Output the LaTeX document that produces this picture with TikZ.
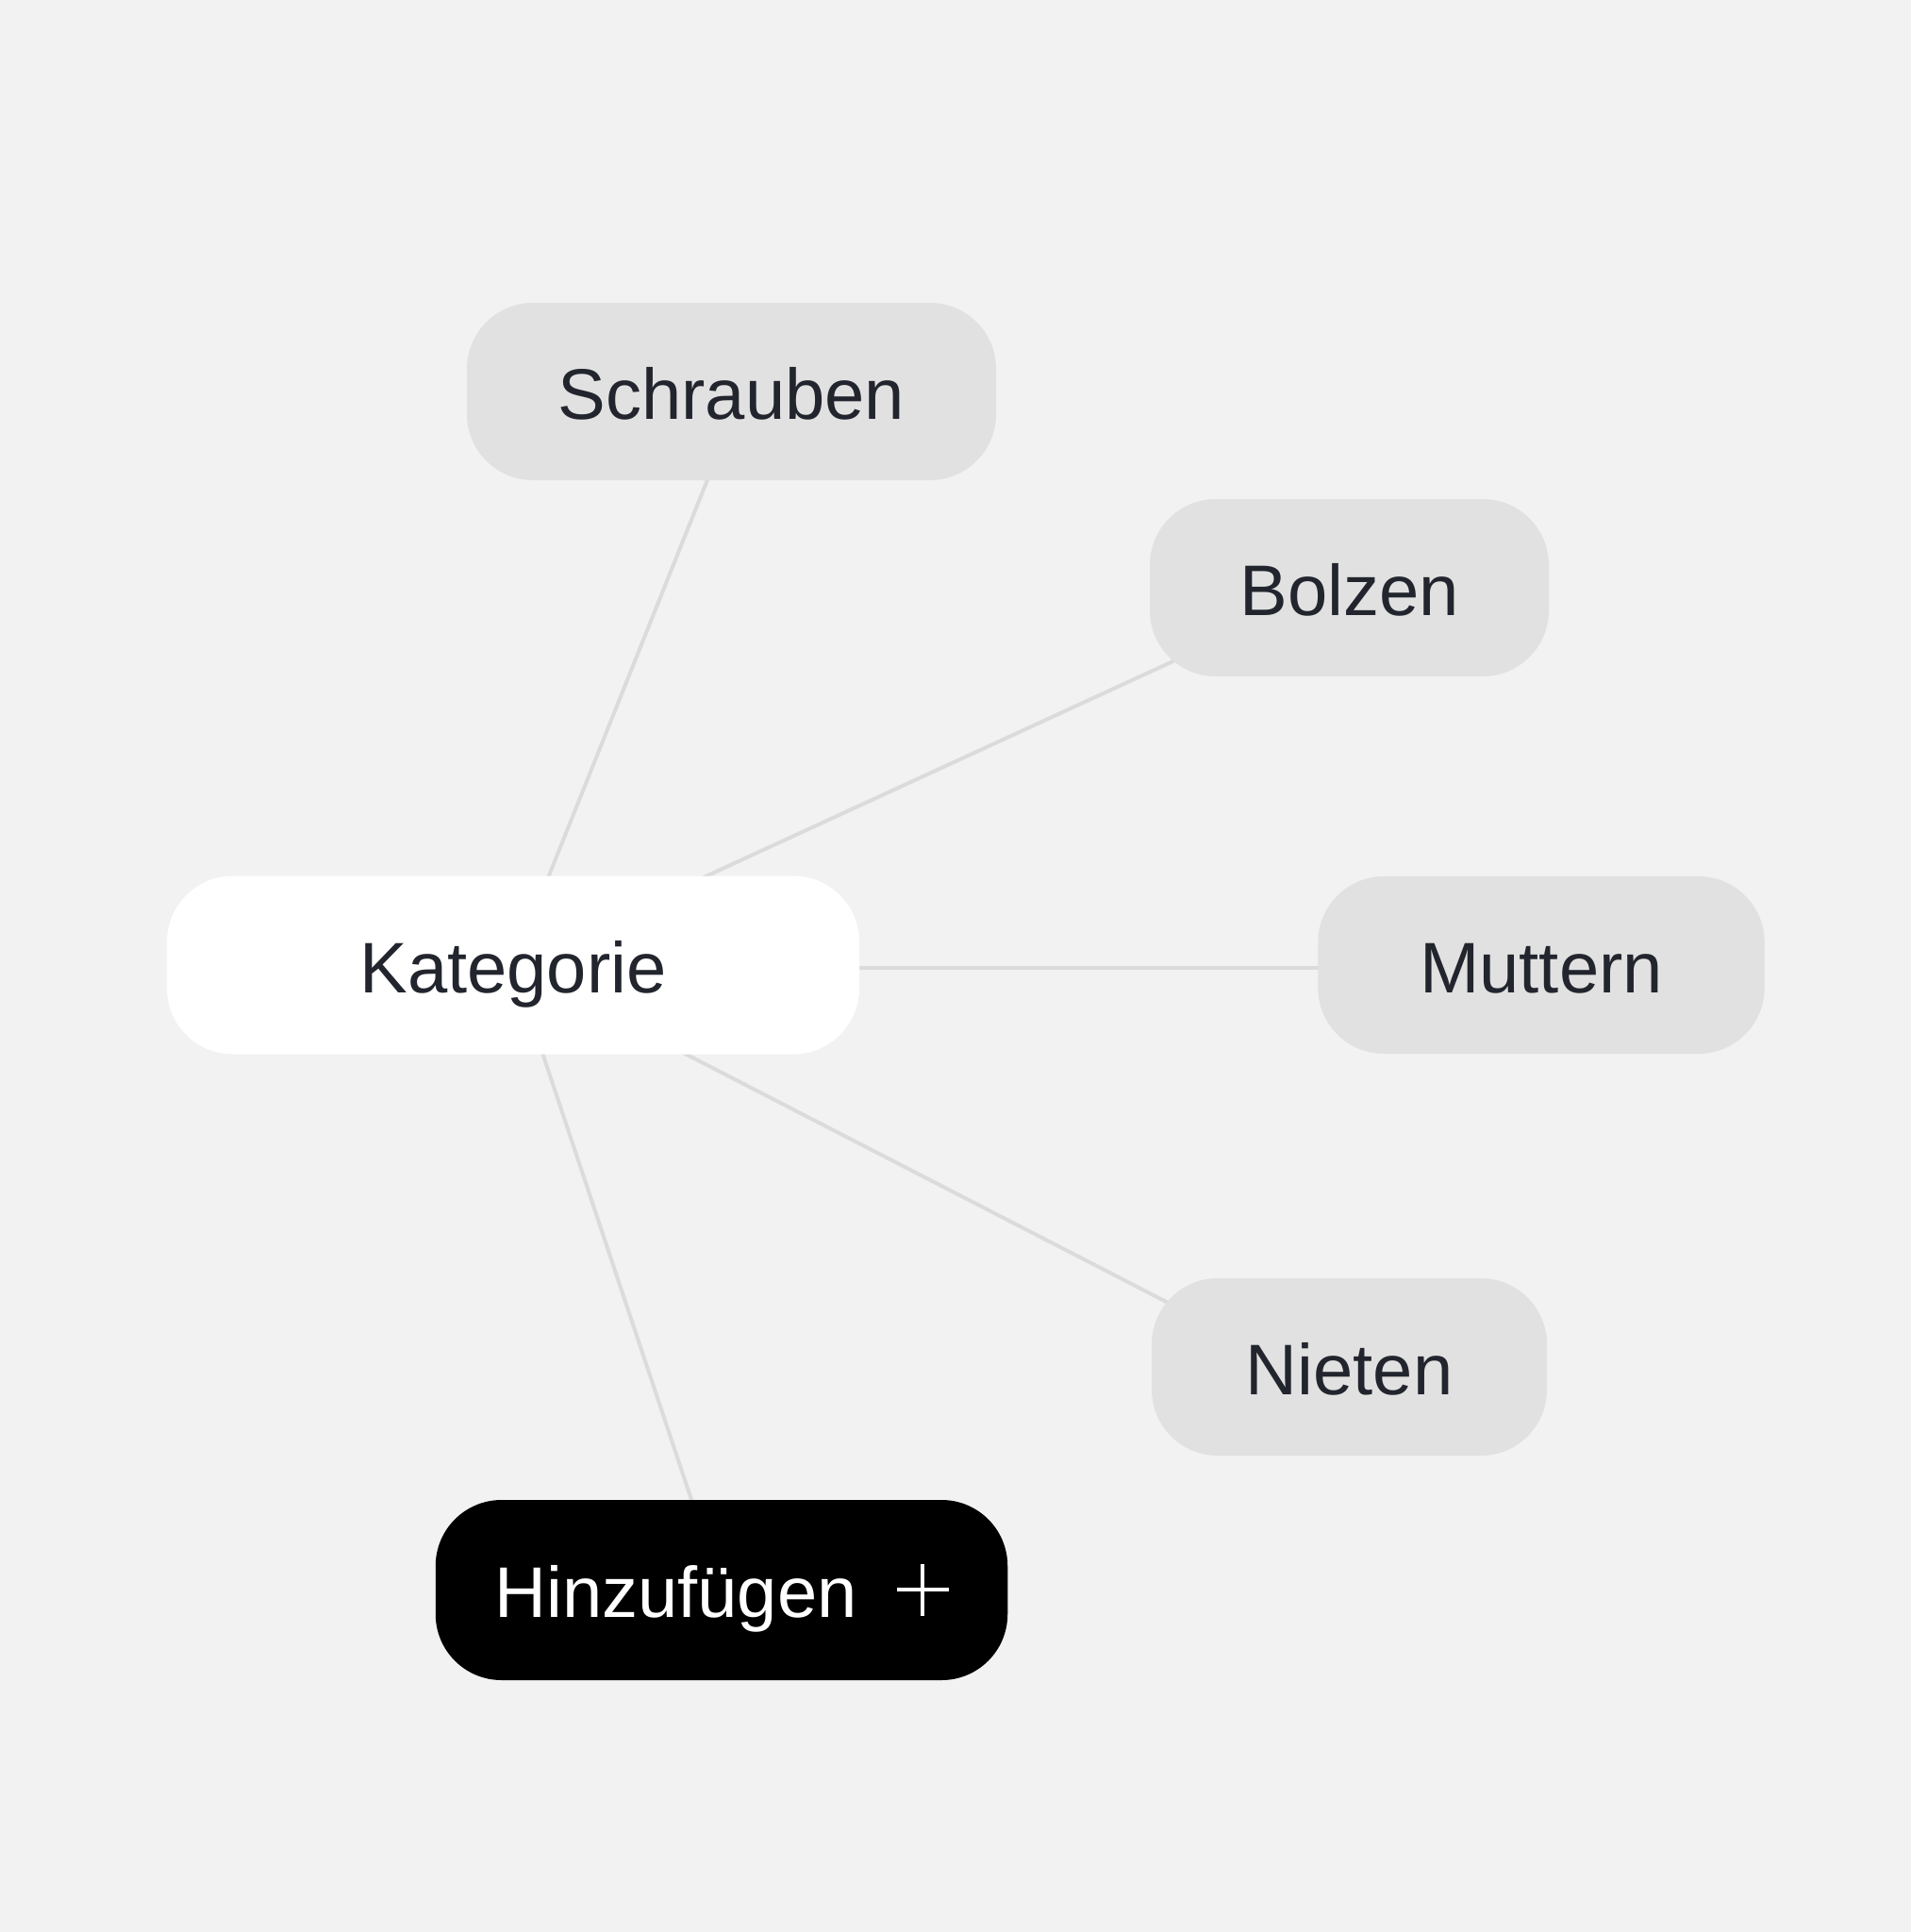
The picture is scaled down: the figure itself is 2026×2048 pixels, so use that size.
\documentclass[tikz,border=0pt]{standalone}
\usepackage{fontspec}
\setmainfont{Liberation Sans}
\definecolor{bgc}{HTML}{F2F2F2}
\definecolor{leafgray}{HTML}{E1E1E1}
\definecolor{linegray}{HTML}{DBDBDB}
\definecolor{ink}{HTML}{22252D}
\pgfdeclarelayer{bg}
\pgfdeclarelayer{edges}
\pgfsetlayers{bg,edges,main}
\newcommand{\plussign}{\makebox[55pt][l]{\rlap{\rule[27.5pt]{55pt}{4pt}}\hspace{25.5pt}\rule[2pt]{4pt}{55pt}}}
\tikzset{
  item/.style={rectangle, rounded corners=70pt, minimum height=188pt, inner sep=0pt,
    text height=58pt, text depth=0pt, font=\fontsize{76pt}{90pt}\selectfont, text=ink},
  leaf/.style={item, fill=leafgray},
  hub/.style={item, fill=white},
  addbtn/.style={item, fill=black, text=white},
  link/.style={draw=linegray, line width=4pt},
}
\begin{document}
\begin{tikzpicture}[x=1pt,y=-1pt]
\useasboundingbox (0,0) rectangle (2026,2048);
\begin{pgfonlayer}{bg}
\fill[bgc] (0,0) rectangle (2026,2048);
\end{pgfonlayer}
\node[leaf, minimum width=561pt] (schr) at (775.5,415) {Schrauben};
\node[leaf, minimum width=423pt] (bolz) at (1430.5,623) {Bolzen};
\node[hub, minimum width=734pt, minimum height=189pt] (kat) at (544,1023) {Kategorie};
\node[leaf, minimum width=473.5pt] (mutt) at (1634,1023) {Muttern};
\node[leaf, minimum width=419pt] (niet) at (1430.5,1449) {Nieten};
\node[addbtn, minimum width=606.5pt, minimum height=191pt] (add) at (765,1685.5) {Hinzufügen\hspace{42pt}\plussign};
\begin{pgfonlayer}{edges}
\draw[link] (kat.center) -- ([xshift=12pt]schr.center);
\draw[link] (kat.center) -- ([yshift=8pt]bolz.center);
\draw[link] ([yshift=-2.5pt]kat.center) -- ([yshift=-2.5pt]mutt.center);
\draw[link] (kat.center) -- ([yshift=-31pt]niet.center);
\draw[link] (kat.center) -- (add.center);
\end{pgfonlayer}
\end{tikzpicture}
\end{document}
